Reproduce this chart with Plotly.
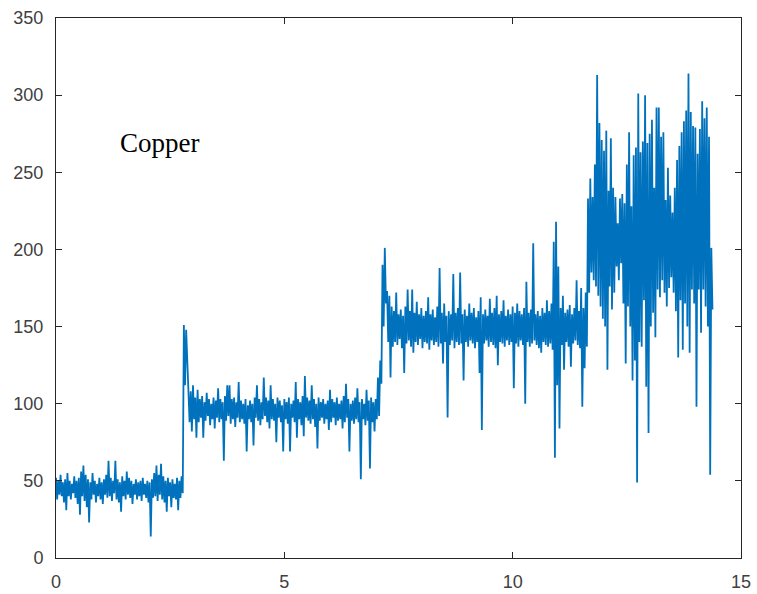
import plotly.graph_objects as go

# Sampling step of the trace (time axis), and per-step upper / lower sample values
dt = 0.05

seg1_hi = [52,50,54,49,51,55,50,48,53,50, 52,56,60,54,51,49,55,50,48,52,
           49,51,54,63,52,50,63,51,49,53, 50,56,52,50,48,51,49,50,52,48,
           50,49,51,55,60,54,61,53,50,52, 49,51,48,52,50,53]
seg1_lo = [38,41,40,36,31,40,38,42,39,35, 28,40,37,33,23,38,41,36,40,38,
           35,41,39,40,37,42,38,36,30,40, 38,41,39,35,41,38,40,37,41,39,
           36,14,39,40,37,41,38,36,30,40, 33,39,38,31,39,42]

jump1_hi = [151,148]
jump1_lo = [112,128]

seg2_hi = [118,108,112,104,109,103,105,101,107,103,
           100,104,102,110,103,101,105,112,112,103,
           104,101,114,102,100,103,99,102,100,104,
           112,103,101,117,104,102,112,103,100,104,
           102,99,103,101,104,100,102,114,103,101,
           105,118,104,102,112,103,100,104,101,103,
           100,102,109,103,101,104,100,102,105,113,
           103,100,102,104,110,101,103,100,109,102,
           104,101,103,117,128]
seg2_lo = [88,82,90,78,88,91,78,89,92,86,
           90,84,91,88,90,63,89,92,87,90,
           85,91,88,90,87,69,90,88,73,91,
           89,86,90,92,88,84,90,89,75,91,
           88,69,90,87,69,91,88,78,90,86,
           79,91,89,87,90,85,71,89,91,87,
           90,83,88,91,86,89,90,84,88,91,
           69,89,87,90,88,51,90,86,89,58,
           88,82,90,92,113]

jump2_hi = [190,201,173,170]
jump2_lo = [150,165,140,117]

seg3_hi = [163,160,172,158,161,157,163,174,160,174,
           159,166,158,162,157,160,169,158,161,156,
           163,188,159,165,157,160,158,184,159,162,
           185,158,161,157,165,159,162,156,160,169,
           158,161,157,168,159,162,170,158,160,167,
           157,161,158,163,159,165,160,158,162,179,
           159,161,204,158,160,157,162,159,167,160,
           165,205,218,189,162,170,159,161,164,158,
           162,180,160,175,162,172]
seg3_lo = [137,140,138,142,136,120,139,141,137,133,
           140,138,142,136,140,139,135,141,138,140,
           137,139,126,140,91,138,141,136,140,138,
           139,115,140,137,141,139,136,140,120,83,
           139,141,137,140,138,136,125,140,139,137,
           141,138,140,110,139,137,141,138,100,140,
           137,139,141,138,136,133,140,138,137,139,
           135,65,112,84,138,122,140,137,124,139,
           141,138,136,98,123,137]

seg4_hi = [233,246,234,255,313,282,271,264,277,238,
           272,240,234,217,233,236,230,255,276,228,
           261,266,301,263,270,300,269,275,284,240,
           292,292,273,276,232,253,235,224,240,258,
           267,276,283,290,314,289,280,279,262,278,
           296,285,292,273,201]
seg4_lo = [172,185,180,176,170,163,155,150,122,176,
           161,172,189,180,191,165,126,163,150,115,
           128,49,140,137,167,111,81,150,159,143,
           174,169,180,172,163,175,182,172,160,130,
           167,135,165,150,133,174,165,98,174,146,
           174,163,150,54,161]

x_ticks = [0, 5, 10, 15]
y_ticks = [0, 50, 100, 150, 200, 250, 300, 350]
label_text = "Copper"

hi = seg1_hi + jump1_hi + seg2_hi + jump2_hi + seg3_hi + seg4_hi
lo = seg1_lo + jump1_lo + seg2_lo + jump2_lo + seg3_lo + seg4_lo
assert len(hi) == len(lo)

xs, ys = [], []
for i, (h, l) in enumerate(zip(hi, lo)):
    xs += [i * dt, i * dt + dt / 2]
    ys += [h, l]

fig = go.Figure()
fig.add_trace(go.Scatter(x=xs, y=ys, mode="lines",
                         line=dict(color="#0072BD", width=1.8),
                         showlegend=False, hoverinfo="skip"))

axis_common = dict(showgrid=False, zeroline=False, showline=True,
                   linecolor="#262626", linewidth=1, mirror="ticks",
                   ticks="inside", ticklen=6, tickcolor="#262626",
                   automargin=False,
                   tickfont=dict(family="Liberation Sans, Arial", size=18, color="#404040"))

fig.update_layout(
    width=757, height=594,
    margin=dict(l=56, r=16, t=18, b=36),
    paper_bgcolor="white", plot_bgcolor="white",
    xaxis=dict(range=[0, 15], tickvals=x_ticks, ticklabelstandoff=7, **axis_common),
    yaxis=dict(range=[0, 350], tickvals=y_ticks, ticklabelstandoff=8, **axis_common),
    annotations=[dict(x=1.36, y=269, xref="x", yref="y", text=label_text,
                      showarrow=False, xanchor="left", yanchor="middle",
                      font=dict(family="Liberation Serif, Times New Roman", size=27, color="black"))],
)

fig.write_html("out.html")
